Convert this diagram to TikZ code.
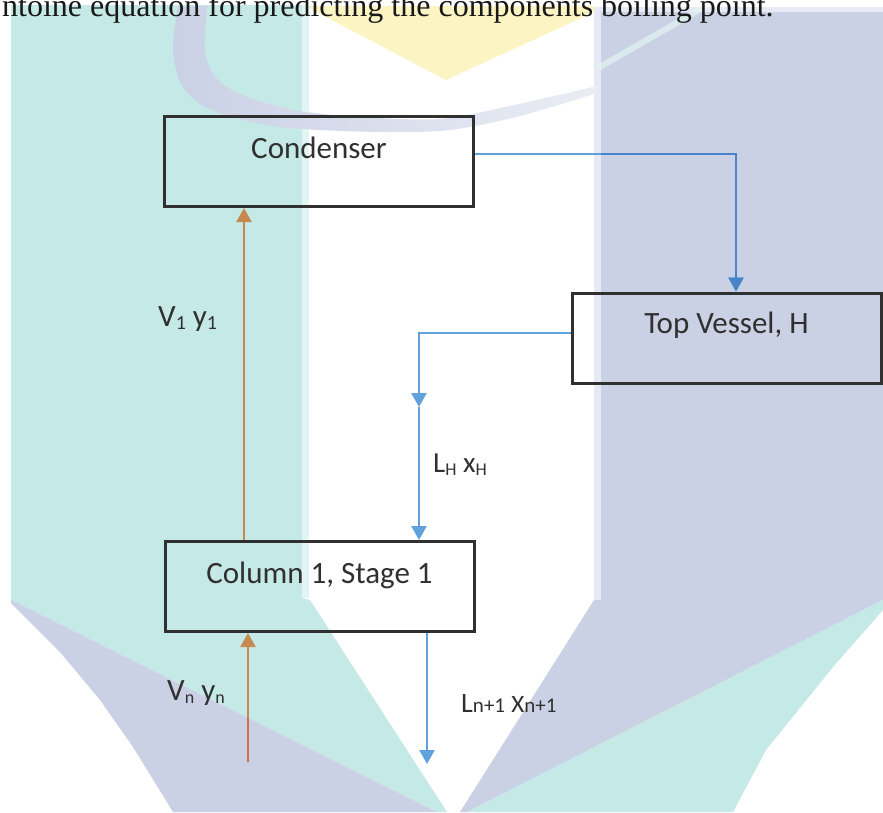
\documentclass[tikz,border=0pt]{standalone}
\usepackage{fontspec}
\setmainfont{Liberation Serif}
\newfontfamily\carlitofont{Carlito}
\usetikzlibrary{arrows.meta}

% watermark tints
\definecolor{wmteal}{HTML}{C5E9E7}
\definecolor{wmtealpale}{HTML}{E2F4F3}
\definecolor{wmlav}{HTML}{CAD1E5}
\definecolor{wmlavpale}{HTML}{E7EAF4}
\definecolor{wmyellow}{HTML}{FDF4C4}
% flowsheet colours
\definecolor{flowblue}{HTML}{62A2DC}
\definecolor{flowbluedeep}{HTML}{4A84C8}
\definecolor{flowtan}{HTML}{C58A4F}
\definecolor{flowrust}{HTML}{CF6E48}
\definecolor{inkgray}{HTML}{303030}

% lowered subscript and baseline-aligned small index
\newcommand\lowsub[2][16]{\raisebox{-3pt}{\fontsize{#1}{#1}\selectfont #2}}
\newcommand\flatsub[1]{{\fontsize{21}{21}\selectfont #1}}

\begin{document}
\begin{tikzpicture}[x=1pt,y=-1pt,
  unit/.style={draw=inkgray, line width=3pt, minimum width=309pt, minimum height=90pt,
    inner sep=0pt, text=inkgray, font=\carlitofont\fontsize{31}{31}\selectfont,
    text height=20pt, text depth=27pt},
  vapour/.style={draw=flowtan, line width=2.5pt, -{Triangle[width=15pt,length=14pt]}},
  liquid/.style={draw=flowblue, line width=2.5pt, -{Triangle[width=15pt,length=14pt]}},
  streamlbl/.style={anchor=base west, inner sep=0pt, text=inkgray,
    font=\carlitofont\fontsize{31}{31}\selectfont}
]
\useasboundingbox (0,0) rectangle (883,812);
\clip (0,0) rectangle (883,812);
\fill[white] (0,0) rectangle (883,812);

% ---- background emblem ----
% left column with its diagonal leg
\fill[wmteal] (11,5) -- (302,5) -- (302,598) -- (310,600) -- (447,812) -- (437,812) -- (11,600) -- cycle;
\fill[wmtealpale] (302,5) rectangle (309,598);
\fill[wmlav] (11,600) -- (437,812) -- (173,812) -- (133,747) -- (100,700) -- (60,652) -- (11,603) -- cycle;
% right column with its diagonal leg
\fill[wmlav] (594,7) -- (883,7) -- (883,600) -- (467,812) -- (460,812) -- (594,600) -- cycle;
\fill[wmlavpale] (594,7) rectangle (601,600);
\fill[wmlavpale] (601,7) rectangle (883,12);
\fill[wmteal] (883,600) -- (883,610) -- (833,667) -- (766,750) -- (733,812) -- (467,812) -- cycle;
% top wedge
\fill[wmyellow] (309,6) -- (594,6) -- (594,12) -- (446,80) -- (309,8) -- cycle;
% curved swoosh
\shade[left color=wmlav, right color=wmlav!40!white]
  (178,6) -- plot[smooth] coordinates {(178,6) (173,48) (180,82) (200,104) (235,118) (290,128) (380,132) (450,130) (520,116) (597,93)}
  -- plot[smooth] coordinates {(597,86) (510,106) (440,119) (360,117) (300,111) (250,98) (218,80) (205,52) (207,6)}
  -- cycle;
\draw[line width=6pt, wmtealpale, opacity=0.7] (598,68) -- (706,6);

% ---- running text above the sketch ----
\node[anchor=base west, inner sep=0pt, text=black!90, font=\fontsize{32}{32}\selectfont]
  (caption) at (2,16) {ntoine equation for predicting the components boiling point.};

% ---- units ----
\node[unit] (condenser) at (319,161.5) {Condenser};
\node[unit, text depth=30pt] (topvessel) at (726.5,338) {Top Vessel, H};
\node[unit] (stage) at (319.5,586.5) {Column 1, Stage 1};

% ---- stream routing points ----
\coordinate (v1) at (244,0);
\coordinate (vn) at (248,762);
\coordinate (cturn) at (736,154);
\coordinate (hturn) at (419,333);
\coordinate (hmid) at (419,407);
\coordinate (lout) at (427,764);

% ---- streams ----
\draw[vapour] (stage.north -| v1) -- (condenser.south -| v1);
\draw[vapour] (vn) -- (stage.south -| vn);
\draw[liquid] (condenser.east |- cturn) -- (cturn) -- (topvessel.north -| cturn);
\draw[liquid] (topvessel.west |- hturn) -- (hturn) -- (hmid);
\draw[liquid] (hmid) -- (stage.north -| hmid);
\draw[liquid] (stage.south -| lout) -- (lout);

% streams look deeper where they cross the lavender tint
\begin{scope}
  \clip (11,600) -- (437,812) -- (173,812) -- (11,603) -- cycle;
  \draw[vapour, draw=flowrust] (vn) -- (stage.south -| vn);
\end{scope}
\begin{scope}
  \clip (601,12) rectangle (883,600);
  \draw[liquid, draw=flowbluedeep] (condenser.east |- cturn) -- (cturn) -- (topvessel.north -| cturn);
\end{scope}

% ---- stream labels ----
\node[streamlbl] (lblv1) at (158,326) {V\lowsub[20]{1} y\lowsub[20]{1}};
\node[streamlbl] (lblvn) at (167,700) {V\lowsub[18]{n} y\lowsub[18]{n}};
\node[streamlbl, font=\carlitofont\fontsize{29}{29}\selectfont] (lbllh) at (433,472) {L\lowsub[18]{H} x\lowsub[18]{H}};
\node[streamlbl, font=\carlitofont\fontsize{28}{28}\selectfont] (lblln) at (461,712)
  {L\flatsub{n+1} {\fontsize{25}{25}\selectfont X}\flatsub{n+1}};
\end{tikzpicture}
\end{document}
